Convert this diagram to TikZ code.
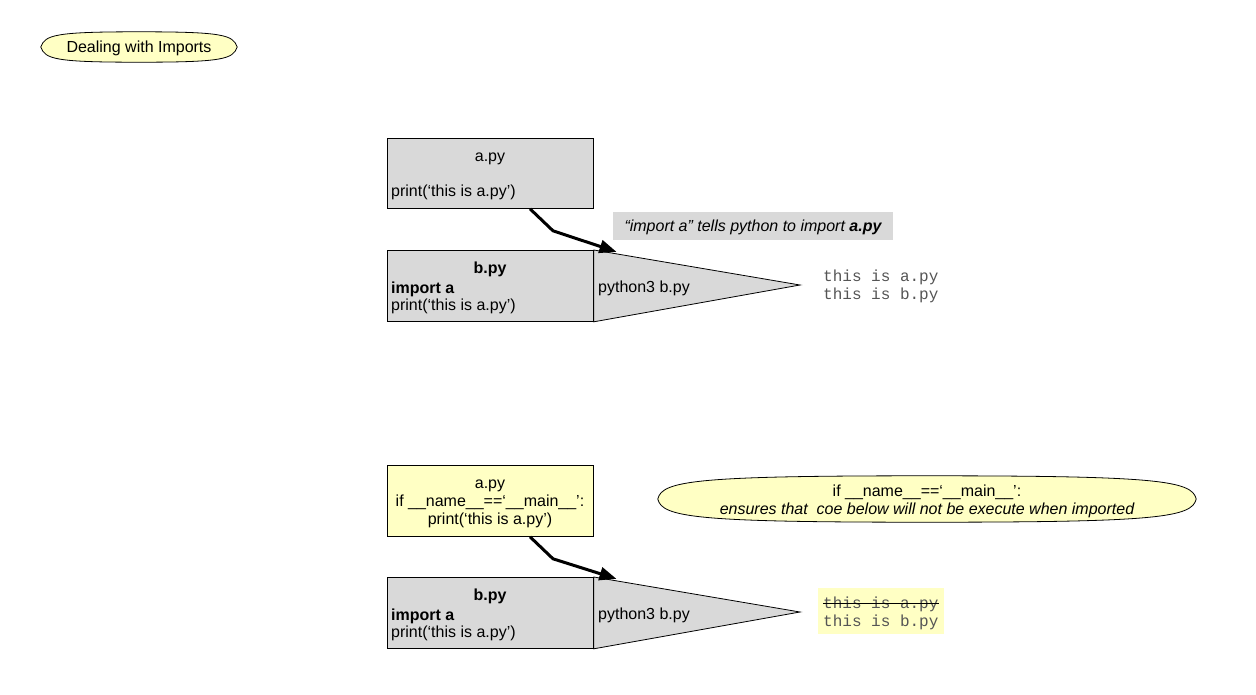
\documentclass[tikz,border=0pt]{standalone}
\usepackage{fontspec}
\setmainfont{Liberation Sans}
\setmonofont{Liberation Mono}
\usetikzlibrary{arrows.meta,calc,shapes.geometric}
\definecolor{boxgray}{RGB}{217,217,217}
\definecolor{noteyellow}{RGB}{255,255,196}
\definecolor{outgray}{RGB}{85,85,85}
% full-bodied oval with slightly pointed ends, inside the rectangle of node #1
\newcommand{\softoval}[1]{%
  \filldraw[line width=0.8pt, fill=noteyellow]
    (#1.west)
    .. controls ($(#1.west)!0.8!(#1.north west)+(4,0)$) and ($(#1.north)!0.85!(#1.north west)$) .. (#1.north)
    .. controls ($(#1.north)!0.85!(#1.north east)$) and ($(#1.east)!0.8!(#1.north east)+(-4,0)$) .. (#1.east)
    .. controls ($(#1.east)!0.8!(#1.south east)+(-4,0)$) and ($(#1.south)!0.85!(#1.south east)$) .. (#1.south)
    .. controls ($(#1.south)!0.85!(#1.south west)$) and ($(#1.west)!0.8!(#1.south west)+(4,0)$) .. (#1.west)
    -- cycle;}
\begin{document}
\begin{tikzpicture}[x=1pt,y=-1pt,
  font=\fontsize{16}{18}\selectfont,
  filebox/.style={draw=black, line width=0.8pt, fill=boxgray, minimum width=206pt,
    minimum height=71pt, anchor=north west, inner sep=0pt},
  yellowbox/.style={filebox, fill=noteyellow},
  txt/.style={anchor=base, inner sep=0pt},
  ltxt/.style={anchor=base west, inner sep=0pt},
  runtri/.style={draw=black, line width=0.8pt, fill=boxgray},
  importarrow/.style={line width=3pt, -{Triangle[length=17pt,width=13pt]}},
  outtxt/.style={anchor=base west, inner sep=0pt,
    font=\fontsize{16}{18}\selectfont\ttfamily, text=outgray},
  noteframe/.style={rectangle, inner sep=0pt},
  hint/.style={fill=boxgray, inner sep=0pt, minimum width=280pt, minimum height=28pt,
    text height=14pt, text depth=4pt}]
\useasboundingbox (0,0) rectangle (1256,694);

% title
\node[noteframe, minimum width=196pt, minimum height=30pt] (title) at (139,47) {};
\softoval{title}
\node[txt] (titletext) at (139,52) {Dealing with Imports};

% ---------- plain import ----------
\node[filebox, minimum height=70pt] (abox) at (387,138) {};
\node[txt] (anameA) at (490,161) {a.py};
\node[ltxt] (aprintA) at (391,196) {print(‘this is a.py’)};

\coordinate (runtipA) at (800,285);
\node[filebox] (bbox) at (387,250) {};
\draw[runtri] (bbox.north east) -- (runtipA) -- (bbox.south east) -- cycle;
\node[filebox, fill=none] at (387,250) {};
\node[txt] (bnameA) at (490,273) {\textbf{b.py}};
\node[ltxt] (bimportA) at (391,293) {\textbf{import a}};
\node[ltxt] (bprintA) at (391,310) {print(‘this is a.py’)};
\node[ltxt] (runA) at (598,292) {python3 b.py};

\node[hint] (hintA) at (753,226) {\itshape “import a” tells python to import \textbf{a.py}};

\node[outtxt] (out1A) at (823,281) {this is a.py};
\node[outtxt] (out2A) at (823,299) {this is b.py};

\coordinate (hitA) at ($(bbox.north east)!0.11!(runtipA)+(0,-2)$);
\draw[importarrow] ($(abox.south west)+(143,0)$) -- ++(23,22) -- (hitA);

% ---------- guarded import ----------
\node[yellowbox] (abox2) at (387,465) {};
\node[txt] (anameB) at (490,488) {a.py};
\node[txt] (aguardB) at (490,506) {if \_\_name\_\_==‘\_\_main\_\_’:};
\node[txt] (aprintB) at (490,524) {print(‘this is a.py’)};

\coordinate (runtipB) at (800,612);
\node[filebox] (bbox2) at (387,577) {};
\draw[runtri] (bbox2.north east) -- (runtipB) -- (bbox2.south east) -- cycle;
\node[filebox, fill=none] at (387,577) {};
\node[txt] (bnameB) at (490,600) {\textbf{b.py}};
\node[ltxt] (bimportB) at (391,620) {\textbf{import a}};
\node[ltxt] (bprintB) at (391,637) {print(‘this is a.py’)};
\node[ltxt] (runB) at (598,619) {python3 b.py};

\node[noteframe, minimum width=538pt, minimum height=46pt] (guardnote) at (927,499) {};
\softoval{guardnote}
\node[txt] (guardline1) at (927,496) {if \_\_name\_\_==‘\_\_main\_\_’:};
\node[txt] (guardline2) at (927,514) {\itshape ensures that~ coe below will not be execute when imported};

\fill[noteyellow] (818,588) rectangle (944,634);
\node[outtxt] (out1B) at (823,608) {this is a.py};
\node[outtxt] (out2B) at (823,626) {this is b.py};
\draw[line width=0.8pt] ([yshift=4.5pt]out1B.base west) -- ([yshift=4.5pt]out1B.base east);

\coordinate (hitB) at ($(bbox2.north east)!0.11!(runtipB)+(0,-2)$);
\draw[importarrow] ($(abox2.south west)+(143,0)$) -- ++(23,22) -- (hitB);
\end{tikzpicture}
\end{document}
